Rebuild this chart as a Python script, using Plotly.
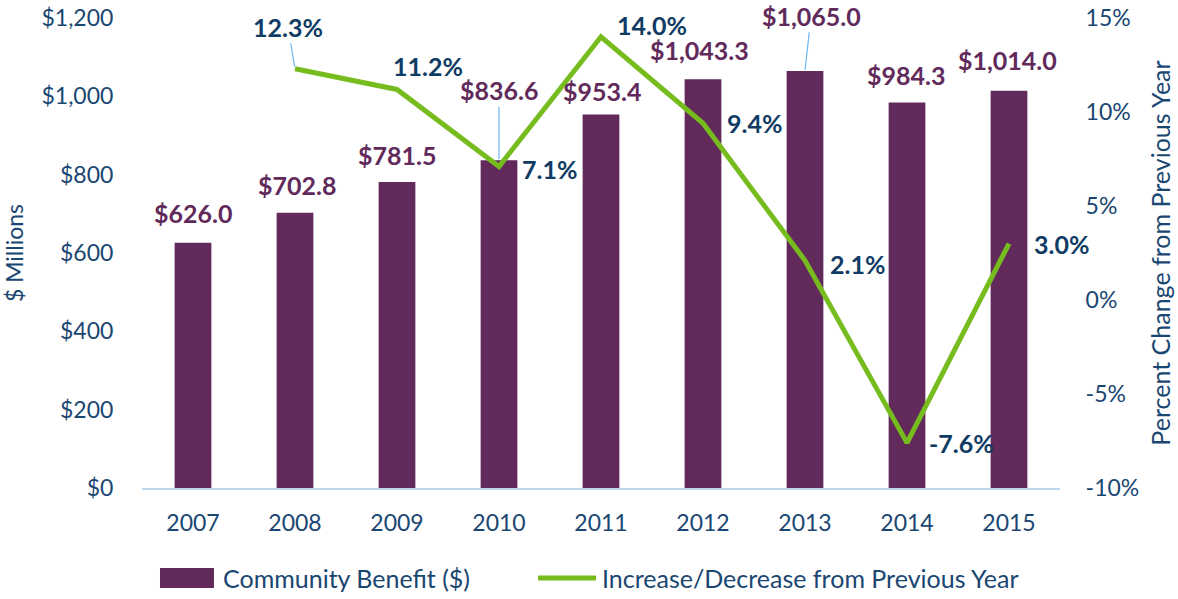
import plotly.graph_objects as go

years = ["2007", "2008", "2009", "2010", "2011", "2012", "2013", "2014", "2015"]
benefit = [626.0, 702.8, 781.5, 836.6, 953.4, 1043.3, 1065.0, 984.3, 1014.0]
pct_change = [None, 12.3, 11.2, 7.1, 14.0, 9.4, 2.1, -7.6, 3.0]

left_ticks = [0, 200, 400, 600, 800, 1000, 1200]
left_labels = ["$0", "$200", "$400", "$600", "$800", "$1,000", "$1,200"]
right_ticks = [-10, -5, 0, 5, 10, 15]
right_labels = ["-10%", "-5%", "0%", "5%", "10%", "15%"]

bar_name = "Community Benefit ($)"
line_name = "Increase/Decrease from Previous Year"

PURPLE = "#612A5B"
GREEN = "#77BC1F"
NAVY = "#1A4672"
NAVY_B = "#0F3B64"
LEADER = "#6CB6F2"
FONT = "Lato"
TICK = 23
LAB = 25

fig = go.Figure()
fig.add_trace(go.Bar(x=years, y=benefit, name=bar_name,
                     marker=dict(color=PURPLE, line=dict(width=0)), yaxis="y"))
fig.add_trace(go.Scatter(x=years, y=pct_change, name=line_name,
                         mode="lines", line=dict(color=GREEN, width=5), yaxis="y2"))

fig.update_layout(
    width=1178, height=599,
    margin=dict(l=142, r=118, t=18, b=111, autoexpand=False),
    plot_bgcolor="white", paper_bgcolor="white",
    font=dict(family=FONT, size=TICK, color=NAVY),
    bargap=0.64,
    showlegend=False,
    xaxis=dict(type="category", range=[-0.5, len(years) - 0.5], autorange=False,
               showgrid=False, showline=True, linecolor="#BDD7EE",
               linewidth=2, ticks="outside", ticklen=13, tickcolor="rgba(0,0,0,0)",
               tickfont=dict(size=TICK, color=NAVY)),
    yaxis=dict(range=[0, 1200], tickvals=left_ticks, ticktext=left_labels,
               showgrid=False, zeroline=False, showline=False,
               ticks="outside", ticklen=23, tickcolor="rgba(0,0,0,0)",
               ticklabeloverflow="allow",
               tickfont=dict(size=TICK, color=NAVY),
               title=dict(text="$ Millions", font=dict(size=TICK, color=NAVY), standoff=12)),
    yaxis2=dict(range=[-10, 15], tickvals=right_ticks, ticktext=right_labels,
                overlaying="y", side="right", showgrid=False, zeroline=False,
                showline=False, ticks="outside", ticklen=20, tickcolor="rgba(0,0,0,0)",
                ticklabeloverflow="allow",
                tickfont=dict(size=TICK, color=NAVY),
                title=dict(text="Percent Change from Previous Year",
                           font=dict(size=25, color=NAVY), standoff=14)),
)

# custom legend (wide swatches as in the reference)
LEG_Y = -0.1915
fig.add_shape(type="rect", xref="paper", yref="paper", x0=0.0196, x1=0.0784,
              y0=-0.2128, y1=-0.1702, fillcolor=PURPLE, line=dict(width=0))
fig.add_annotation(xref="paper", yref="paper", x=0.0861, y=LEG_Y, xanchor="left",
                   yanchor="middle", text=bar_name, showarrow=False,
                   font=dict(family=FONT, size=25, color=NAVY))
fig.add_shape(type="line", xref="paper", yref="paper", x0=0.4314, x1=0.4946,
              y0=LEG_Y, y1=LEG_Y, line=dict(color=GREEN, width=5))
fig.add_annotation(xref="paper", yref="paper", x=0.4989, y=LEG_Y, xanchor="left",
                   yanchor="middle", text=line_name, showarrow=False,
                   font=dict(family=FONT, size=25, color=NAVY))

# bar labels: (xshift, yshift) or arrow (ax, ay)
bar_lab_pos = [(0, 30), (2, 28), (0, 27), ("arrow", 0, -70), (1, 24), (-4, 29),
               ("arrow", 6, -55), (-1, 27), (-2, 31)]
for i, (v, pos) in enumerate(zip(benefit, bar_lab_pos)):
    txt = "$" + f"{v:,.1f}"
    if pos[0] == "arrow":
        fig.add_annotation(x=i, y=v, xref="x", yref="y", text=f"<b>{txt}</b>",
                           showarrow=True, arrowhead=0, arrowwidth=1.2, arrowcolor=LEADER,
                           ax=pos[1], ay=pos[2], standoff=1,
                           font=dict(family=FONT, size=LAB, color=PURPLE))
    else:
        fig.add_annotation(x=i, y=v, xref="x", yref="y", text=f"<b>{txt}</b>",
                           showarrow=False, xshift=pos[0], yshift=pos[1],
                           font=dict(family=FONT, size=LAB, color=PURPLE))

line_lab_pos = [None, ("arrow", -7, -42), (31, 23), (50, -2), (51, 12), (51, 0),
                (52, -3), (54, 0), (52, 0)]
for i, (v, pos) in enumerate(zip(pct_change, line_lab_pos)):
    if v is None:
        continue
    txt = f"{v:.1f}%"
    if pos[0] == "arrow":
        fig.add_annotation(x=i, y=v, xref="x", yref="y2", text=f"<b>{txt}</b>",
                           showarrow=True, arrowhead=0, arrowwidth=1.2, arrowcolor=LEADER,
                           ax=pos[1], ay=pos[2], standoff=2,
                           font=dict(family=FONT, size=LAB, color=NAVY_B))
    else:
        fig.add_annotation(x=i, y=v, xref="x", yref="y2", text=f"<b>{txt}</b>",
                           showarrow=False, xshift=pos[0], yshift=pos[1],
                           font=dict(family=FONT, size=LAB, color=NAVY_B))

fig.write_html("out.html", config={"displayModeBar": False},
               post_script="document.body.style.margin='0';document.body.style.padding='0';")
